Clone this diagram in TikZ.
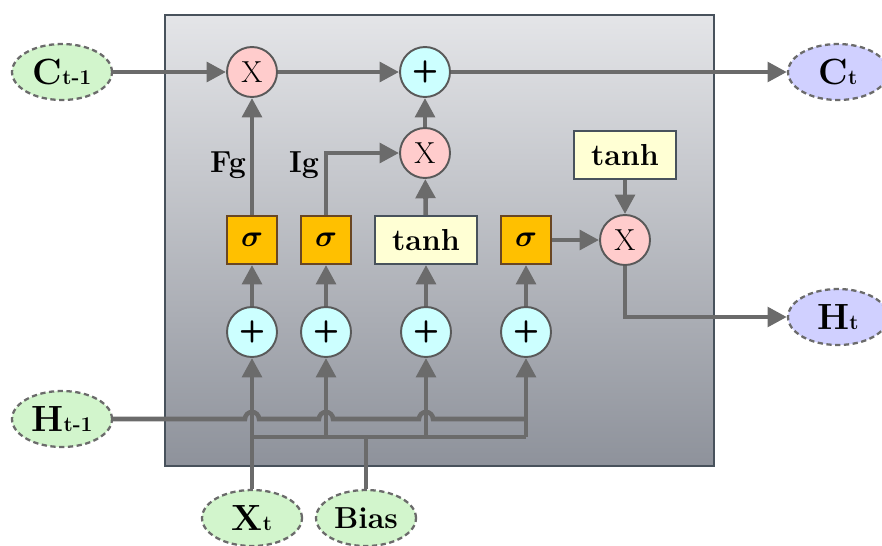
\documentclass[tikz,border=0pt]{standalone}
\usepackage{bm}
\usepackage{tikz}
\usetikzlibrary{arrows.meta, shapes.geometric, positioning}

\definecolor{flowgray}{HTML}{6B6B6B}
\definecolor{cellborder}{HTML}{48525C}
\definecolor{celltop}{HTML}{E4E5E8}
\definecolor{cellbottom}{HTML}{8E929B}
\definecolor{prevfill}{HTML}{D2F5CC}
\definecolor{nextfill}{HTML}{D0D0FF}
\definecolor{mulfill}{HTML}{FFCCCC}
\definecolor{addfill}{HTML}{CCFFFF}
\definecolor{gatefill}{HTML}{FFC000}
\definecolor{tanhfill}{HTML}{FFFFD4}

\tikzset{
	statenode/.style={ellipse, draw=flowgray, dash pattern=on 3pt off 2pt, line width=1.3pt,
		minimum width=2cm, minimum height=1.12cm, inner sep=1pt}
}
\tikzset{
	opnode/.style={circle, draw=black!65, line width=1.1pt, minimum size=1cm, inner sep=0pt}
}
\tikzset{
	gatebox/.style={draw=black!45!brown, line width=1.1pt, fill=gatefill,
		minimum width=1cm, minimum height=0.96cm, inner sep=0pt, font=\LARGE}
}
\tikzset{
	tanhbox/.style={draw=cellborder, line width=1.1pt, fill=tanhfill,
		minimum width=2.04cm, minimum height=0.96cm, inner sep=0pt, font=\LARGE\bfseries}
}
\tikzset{
	flow/.style={draw=flowgray, line width=2.6pt, -{Triangle[length=11pt,width=11pt]}}
}
\tikzset{
	wire/.style={draw=flowgray, line width=2.6pt}
}
\newcommand{\mulsign}{\LARGE X}
\newcommand{\addsign}{\LARGE\sffamily\bfseries +}

\begin{document}
\begin{tikzpicture}[x=0.02cm, y=-0.02cm]
	\clip (0,0) rectangle (882,545);
	\path[top color=celltop, bottom color=cellbottom, draw=cellborder, line width=1.3pt]
		(165,15) rectangle (714,466);

	% inputs and outputs
	\node[statenode, fill=prevfill] (cprev) at (62,72) {\bfseries{\huge C}{\large t-1}};
	\node[statenode, fill=prevfill] (hprev) at (62,419) {\bfseries{\huge H}{\large t-1}};
	\node[statenode, fill=nextfill] (cnext) at (838,72) {\bfseries{\huge C}{\large t}};
	\node[statenode, fill=nextfill] (hnext) at (838,317) {\bfseries{\huge H}{\large t}};
	\node[statenode, fill=prevfill] (xt) at (252,518) {\bfseries{\huge X}{\large t}};
	\node[statenode, fill=prevfill] (bias) at (366,518) {\bfseries\LARGE Bias};

	% operations
	\node[opnode, fill=mulfill] (mulf) at (252,72) {\mulsign};
	\node[opnode, fill=addfill] (addc) at (425,72) {\addsign};
	\node[opnode, fill=mulfill] (muli) at (425,153) {\mulsign};
	\node[opnode, fill=mulfill] (mulo) at (625,240) {\mulsign};
	\node[opnode, fill=addfill] (addf) at (252,332) {\addsign};
	\node[opnode, fill=addfill] (addi) at (326,332) {\addsign};
	\node[opnode, fill=addfill] (addg) at (426,332) {\addsign};
	\node[opnode, fill=addfill] (addo) at (526,332) {\addsign};

	% gates
	\node[gatebox] (sigf) at (252,240) {$\bm{\sigma}$};
	\node[gatebox] (sigi) at (326,240) {$\bm{\sigma}$};
	\node[tanhbox] (tanhc) at (426,240) {tanh};
	\node[gatebox] (sigo) at (526,240) {$\bm{\sigma}$};
	\node[tanhbox] (tanho) at (625,155) {tanh};

	\node[font=\LARGE\bfseries] (fg) at (228,165) {Fg};
	\node[font=\LARGE\bfseries] (ig) at (304,165) {Ig};

	\coordinate (busl) at (252,437);
	\coordinate (busr) at (526,437);

	% cell state
	\draw[flow] (cprev) -- (mulf);
	\draw[flow] (mulf) -- (addc);
	\draw[flow] (addc) -- (cnext);
	\draw[flow] (sigf) -- (mulf);
	\draw[flow] (sigi) |- (muli);
	\draw[flow] (tanhc) -- (muli);
	\draw[flow] (muli) -- (addc);

	% output
	\draw[flow] (sigo) -- (mulo);
	\draw[flow] (tanho) -- (mulo);
	\draw[flow] (mulo) |- (hnext);

	\foreach \a/\b in {addf/sigf, addi/sigi, addg/tanhc, addo/sigo}
		\draw[flow] (\a) -- (\b);

	% inputs
	\draw[flow] (xt) -- (addf);
	\draw[wire] (busl) -- (busr);
	\foreach \n in {addi, addg, addo}
		\draw[flow] (\n |- busl) -- (\n);
	\draw[wire] (bias) -- (bias |- busl);
	\draw[wire] (hprev.east)
		\foreach \n in {addf, addi, addg} {
			-- ([xshift=-0.14cm]\n |- hprev) arc[start angle=180, end angle=0, radius=0.14cm]
		}
		-- (addo |- hprev);
\end{tikzpicture}
\end{document}
